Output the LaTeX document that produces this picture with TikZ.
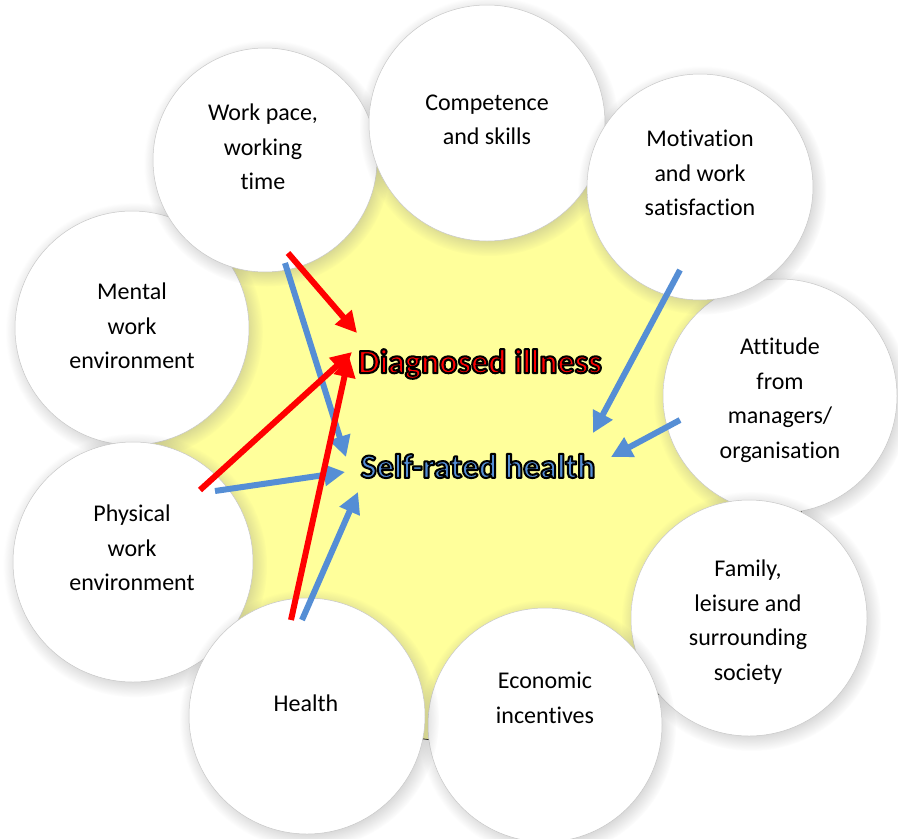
\documentclass[tikz,border=0pt]{standalone}
\usepackage{fontspec}
\setmainfont{Carlito}[Ligatures=NoCommon]
\usetikzlibrary{arrows.meta,shadows}
\definecolor{yel}{RGB}{255,255,155}
\definecolor{arrblue}{RGB}{85,142,213}
\definecolor{arrred}{RGB}{255,0,0}
\pgfdeclareradialshading{discshade}{\pgfpoint{0bp}{0bp}}{color(0bp)=(white); color(30bp)=(white); color(50bp)=(black!10)}
\newcommand{\outlinedtext}[2]{{\color{#1}\special{pdf:code q 0 0 0 RG 2 w 1 j 2 Tr}#2\special{pdf:code Q}}}
\begin{document}
\begin{tikzpicture}[x=1pt,y=-1pt,
  disc/.style={circle, draw=black!22, line width=0.5pt, shading=discshade, inner sep=0pt,
    circular drop shadow={shadow xshift=2pt, shadow yshift=-3pt, opacity=0.35}},
  lbl/.style={align=center, font=\fontsize{24}{34.5}\selectfont, text=black},
  big/.style={font=\fontsize{34}{40}\selectfont\bfseries, inner sep=0pt},
  arr/.style={line width=6pt, -{Triangle[length=21pt,width=21pt]}},
]
\useasboundingbox (0,0) rectangle (898,839);
% yellow background
\path[fill=yel, draw=black, line width=0.8pt] plot[smooth cycle, tension=0.7] coordinates {(759,285) (801,513) (659,694) (424,739) (225,635) (150,448) (235,250) (370,150) (600,160)};
% circles
\node[disc, minimum size=234pt] (c-att) at (780,396) {};
\node[disc, minimum size=236pt] (c-fam) at (749,618) {};
\node[disc, minimum size=234pt] (c-eco) at (545,725) {};
\node[disc, minimum size=234pt] (c-men) at (132,328) {};
\node[disc, minimum size=240pt] (c-phy) at (133,562) {};
\node[disc, minimum size=236pt] (c-hea) at (307,716) {};
\node[disc, minimum size=224pt] (c-wp) at (265,160) {};
\node[disc, minimum size=236pt] (c-com) at (487,123) {};
\node[disc, minimum size=226pt] (c-mot) at (700,187) {};
% circle texts
\node[lbl] (t-wp) at (263,147) {Work pace,\\working\\time};
\node[lbl] (t-com) at (487,120) {Competence\\and skills};
\node[lbl] (t-mot) at (700,173) {Motivation\\and work\\satisfaction};
\node[lbl] (t-men) at (132,326) {Mental\\work\\environment};
\node[lbl] (t-att) at (780,400) {Attitude\\from\\managers/\\organisation};
\node[lbl] (t-phy) at (132,548) {Physical\\work\\environment};
\node[lbl] (t-fam) at (748,622) {Family,\\leisure and\\surrounding\\society};
\node[lbl] (t-hea) at (306,703) {Health};
\node[lbl] (t-eco) at (545,698) {Economic\\incentives};
% arrow anchor coordinates
\coordinate (r1s) at (288,253); \coordinate (r1e) at (357,333);
\coordinate (r2s) at (200,490); \coordinate (r2e) at (352,352);
\coordinate (r3s) at (291,620); \coordinate (r3e) at (349,356);
\coordinate (b1s) at (285,263); \coordinate (b1e) at (346,457);
\coordinate (b2s) at (215,491); \coordinate (b2e) at (345,472);
\coordinate (b3s) at (302,620); \coordinate (b3e) at (358,492);
\coordinate (b4s) at (680,270); \coordinate (b4e) at (593,433);
\coordinate (b5s) at (680,420); \coordinate (b5e) at (611,457);
% arrows
\draw[arr, arrblue] (b1s) -- (b1e);
\draw[arr, arrblue] (b2s) -- (b2e);
\draw[arr, arrblue] (b3s) -- (b3e);
\draw[arr, arrblue] (b4s) -- (b4e);
\draw[arr, arrblue] (b5s) -- (b5e);
\draw[arr, arrred] (r1s) -- (r1e);
\draw[arr, arrred] (r2s) -- (r2e);
\draw[arr, arrred] (r3s) -- (r3e);
% centre labels
\node[big] (diag) at (480,364) {\outlinedtext{arrred}{Diagnosed illness}};
\node[big] (srh) at (478,466) {\outlinedtext{arrblue}{Self-rated health}};
\end{tikzpicture}
\end{document}
